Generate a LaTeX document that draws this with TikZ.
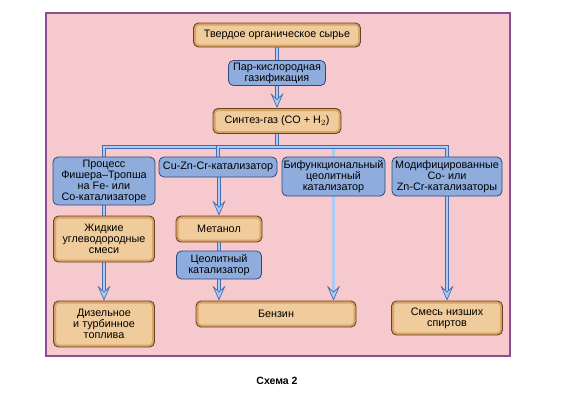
\documentclass[tikz,border=0pt]{standalone}
\usepackage{fontspec}
\setmainfont{Liberation Sans}
\usetikzlibrary{arrows.meta}
\definecolor{pinkbg}{RGB}{246,201,207}
\definecolor{framepurple}{RGB}{140,78,145}
\definecolor{rawfill}{RGB}{240,203,155}
\definecolor{rawrim}{RGB}{218,163,103}
\definecolor{rawdraw}{RGB}{105,68,35}
\definecolor{stepfill}{RGB}{143,173,220}
\definecolor{stepdraw}{RGB}{45,72,125}
\definecolor{pipefill}{RGB}{172,202,242}
\definecolor{pipedraw}{RGB}{68,108,178}
\pgfdeclarelayer{bg}
\pgfdeclarelayer{pipes}
\pgfsetlayers{bg,pipes,main}
\tikzset{
  product/.style={draw=rawdraw, fill=rawfill, line width=0.9pt, rounded corners=5pt,
    align=center, inner sep=1pt, font=\fontsize{10.8}{11}\selectfont,
    path picture={\draw[rawrim, line width=5pt, rounded corners=5pt]
      (path picture bounding box.south west) rectangle (path picture bounding box.north east);}},
  stepbox/.style={draw=stepdraw, fill=stepfill, line width=0.8pt, rounded corners=5pt,
    align=center, inner sep=1pt, font=\fontsize{10.8}{11}\selectfont},
  pipe/.style={draw=pipedraw, line width=0.7pt, double=pipefill, double distance=2.2pt},
  flow/.style={pipe, -{Stealth[length=15pt, width=13pt, inset=6pt, fill=pipefill]}},
}
\begin{document}
\begin{tikzpicture}[x=1pt, y=-1pt]
\useasboundingbox (0,0) rectangle (580,405);

% nodes
\node[product, minimum width=167pt, minimum height=24pt] (raw) at (277,35) {Твердое органическое сырье};
\node[stepbox, minimum width=97pt, minimum height=25pt] (gasif) at (277,73) {Пар-кислородная\\газификация};
\node[product, minimum width=128pt, minimum height=25pt] (syn) at (277,121) {Синтез-газ (CO + H$_2$)};
\coordinate (bus) at (277,147);

\node[stepbox, minimum width=102pt, minimum height=48pt] (fischer) at (104,181) {Процесс\\Фишера--Тропша\\на Fe- или\\Co-катализаторе};
\node[stepbox, minimum width=118pt, minimum height=20pt] (cuzn) at (218,167) {Cu-Zn-Cr-катализатор};
\node[stepbox, minimum width=103pt, minimum height=39pt] (bifunc) at (333.5,176.5) {Бифункциональный\\цеолитный\\катализатор};
\node[stepbox, minimum width=110pt, minimum height=39pt] (modif) at (447,176.5) {Модифицированные\\Co- или\\Zn-Cr-катализаторы};

\node[product, minimum width=101pt, minimum height=46pt] (liquid) at (104,239) {Жидкие\\углеводородные\\смеси};
\node[product, minimum width=86pt, minimum height=26pt] (methanol) at (219,229) {Метанол};
\node[stepbox, minimum width=85pt, minimum height=28pt] (zeolite) at (219,265) {Цеолитный\\катализатор};

\node[product, minimum width=101pt, minimum height=46pt] (diesel) at (104,324) {Дизельное\\и турбинное\\топлива};
\node[product, minimum width=160pt, minimum height=26pt] (petrol) at (276,314) {Бензин};
\node[product, minimum width=111pt, minimum height=34pt] (alcohol) at (447,318) {Смесь низших\\спиртов};

\node[font=\bfseries\fontsize{10.5}{11}\selectfont] (caption) at (277,381) {Схема 2};

\begin{pgfonlayer}{bg}
\fill[white] (0,0) rectangle (580,405);
\draw[framepurple, fill=pinkbg, line width=2.5pt] (46,13) rectangle (510,356);
\end{pgfonlayer}

\begin{pgfonlayer}{pipes}
\draw[flow] (raw) -- (syn);
\draw[pipe] (syn) -- (bus);
\draw[pipe] (fischer.north) |- (bus);
\draw[pipe] (cuzn.north) |- (bus);
\draw[pipe] (bifunc.north) |- (bus);
\draw[pipe] (modif.north) |- (bus);
\draw[pipe] (fischer) -- (liquid);
\draw[flow] (liquid) -- (diesel);
\draw[flow] (cuzn.south -| methanol.north) -- (methanol.north);
\draw[flow] (methanol.south) -- (methanol.south |- petrol.north);
\draw[flow] (bifunc.south) -- (bifunc.south |- petrol.north);
\draw[flow] (modif) -- (alcohol);
\end{pgfonlayer}
\end{tikzpicture}
\end{document}
